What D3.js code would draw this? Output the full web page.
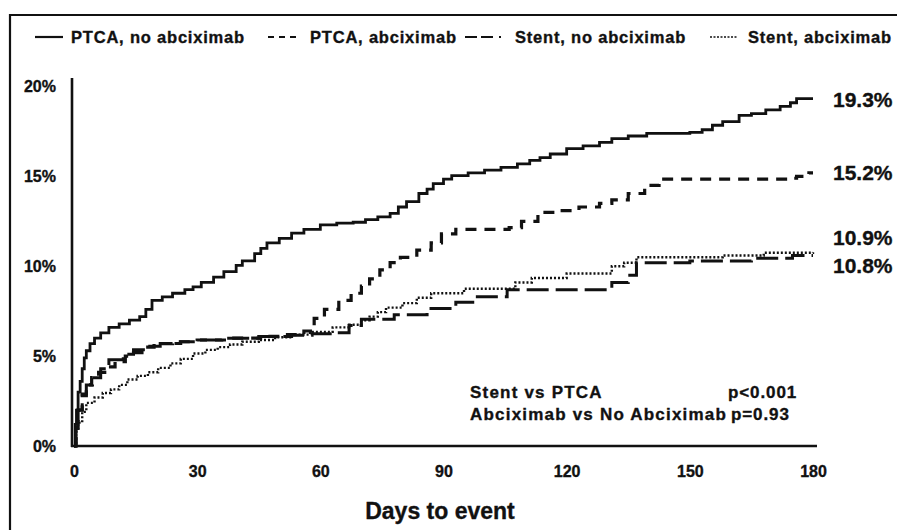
<!DOCTYPE html>
<html>
<head>
<meta charset="utf-8">
<script src="https://cdn.jsdelivr.net/npm/d3@7"></script>
<style>
  body { margin: 0; background: #fff; }
  text { font-family: "Liberation Sans", Arial, sans-serif; font-weight: bold; fill: #111; stroke: #111; stroke-width: 0.35px; }
</style>
</head>
<body>
<div id="plot"></div>
<script>
const w = 897;
const h = 530;

// [day, cumulative event %]
const ptcaNoAbx = [[0,0],[0.3,1.2],[0.6,2.0],[1,3.0],[1.5,3.6],[2,4.3],[2.5,4.9],[3,5.3],[3.9,5.7],[5,6.0],[6.5,6.3],[8.5,6.6],[11,6.8],[13.5,7.0],[16,7.2],[17.5,7.6],[19,8.1],[21.5,8.3],[24,8.5],[27,8.7],[29,8.85],[31,9.1],[34,9.4],[36.5,9.7],[39.5,10.05],[41,10.3],[44,10.7],[45.5,11.0],[47,11.3],[50,11.55],[53,11.85],[56,12.05],[60,12.3],[64,12.4],[68,12.45],[71,12.6],[74,12.75],[77,12.95],[79,13.3],[81,13.6],[84,14.05],[86,14.3],[87.5,14.6],[90,14.85],[92,15.05],[96,15.2],[100,15.35],[104,15.5],[108,15.7],[111,15.9],[113.5,16.05],[116,16.25],[120,16.55],[124,16.7],[128,16.9],[131,17.1],[135,17.25],[139.5,17.4],[150,17.45],[153,17.6],[155.5,17.85],[158,18.05],[162,18.4],[165,18.5],[168.5,18.7],[172,18.9],[174.5,19.1],[176,19.33],[180,19.33]];
const ptcaAbx = [[0,0],[0.5,1.0],[1,2.0],[2,2.8],[3,3.4],[4.3,3.8],[6,4.1],[8,4.4],[10,4.7],[12.5,5.0],[14.5,5.2],[17,5.5],[19.5,5.7],[24,5.8],[30,5.9],[38,6.0],[46,6.1],[52,6.2],[56,6.4],[58.5,7.1],[61,7.6],[64.5,8.1],[67.5,8.5],[70,8.9],[72,9.3],[74.5,9.8],[77,10.2],[79.5,10.5],[83.5,10.9],[87,11.3],[89.5,11.8],[93,12.05],[106,12.15],[109,12.5],[113,13.0],[118,13.1],[123,13.3],[128,13.5],[131,13.7],[135,14.05],[139,14.5],[142.5,14.85],[174,14.9],[176,15.0],[179,15.2],[180,15.2]];
const stentNoAbx = [[0,0],[0.5,1.2],[1,2.0],[2,2.9],[3,3.4],[4.5,3.8],[6.5,4.3],[8.5,4.8],[12,5.1],[14.5,5.35],[18,5.55],[21,5.7],[26,5.8],[30,5.9],[36,6.0],[45,6.1],[53,6.17],[58,6.25],[64,6.3],[67,6.7],[70,7.05],[78,7.3],[86,7.65],[93,8.0],[97.5,8.3],[105.5,8.7],[131,9.1],[135,9.5],[137,10.2],[150,10.3],[165,10.45],[175,10.6],[180,10.6]];
const stentAbx = [[0,0],[0.5,0.8],[1,1.3],[2,1.9],[3,2.4],[5,2.7],[7,2.95],[9,3.15],[11,3.4],[13,3.7],[15.5,3.9],[18,4.1],[20.5,4.35],[23.5,4.6],[26,4.85],[29,5.15],[32,5.35],[35,5.5],[38,5.65],[41,5.8],[45,5.9],[49,6.05],[53,6.2],[57.5,6.35],[63,6.6],[67,6.75],[70,7.0],[72,7.2],[74,7.45],[76,7.7],[80,7.95],[83.5,8.25],[87,8.5],[95,8.75],[107.5,9.1],[111.5,9.35],[120,9.6],[131,10.0],[134,10.2],[137,10.5],[158,10.6],[168,10.75],[180,10.78]];

const seriesNames = ["PTCA, no abciximab", "PTCA, abciximab", "Stent, no abciximab", "Stent, abciximab"];
const endLabels = ["19.3%", "15.2%", "10.9%", "10.8%"];
const xTicks = [0, 30, 60, 90, 120, 150, 180];
const yTicks = [0, 5, 10, 15, 20];
const pValues = [["Stent vs PTCA", "p<0.001"], ["Abciximab vs No Abciximab", "p=0.93"]];

const xScale = d3.scaleLinear().domain([0, 180]).range([74, 813]);
const yScale = d3.scaleLinear().domain([0, 20]).range([446, 86.6]);

const svg = d3.select("#plot").
append("svg").
attr("width", w).
attr("height", h);

// frame (top and left edges only)
svg.append("path").
attr("d", "M10," + h + "V15H" + w).
attr("fill", "none").
attr("stroke", "#111").
attr("stroke-width", 2.2);

// axes
const xAxis = d3.axisBottom(xScale).tickValues(xTicks).tickSize(0).tickPadding(20);
const yAxis = d3.axisLeft(yScale).tickValues(yTicks).tickSize(0).tickPadding(16).tickFormat(d => d + "%");

svg.append("g").
attr("transform", "translate(0,446)").
call(xAxis).
call(g => g.select(".domain").remove()).
call(g => g.selectAll("text").attr("font-size", 16).attr("font-family", null).attr("fill", null));

svg.append("g").
attr("transform", "translate(72,0)").
call(yAxis).
call(g => g.select(".domain").remove()).
call(g => g.selectAll("text").attr("font-size", 16).attr("font-family", null).attr("fill", null));

svg.append("line").
attr("x1", 72).attr("x2", 72).
attr("y1", 78).attr("y2", 447).
attr("stroke", "#111").attr("stroke-width", 2.6);

svg.append("line").
attr("x1", 71).attr("x2", 817).
attr("y1", 446).attr("y2", 446).
attr("stroke", "#111").attr("stroke-width", 2.6);

// curves
const styles = [
  { dash: null, width: 2.8, legendDash: null },
  { dash: "11,8", width: 3.2, legendDash: "6,5" },
  { dash: "22,7", width: 3, legendDash: "12,4,12,6,2,40" },
  { dash: "2,2", width: 2.4, legendDash: "2,1.5" }
];

const line = d3.line().
curve(d3.curveStepAfter).
x(d => xScale(d[0])).
y(d => yScale(d[1]));

const allSeries = [ptcaNoAbx, ptcaAbx, stentNoAbx, stentAbx];

svg.selectAll(".curve").
data(allSeries).
enter().
append("path").
attr("class", "curve").
attr("d", line).
attr("fill", "none").
attr("stroke", "#111").
attr("stroke-width", (d, i) => styles[i].width).
attr("stroke-dasharray", (d, i) => styles[i].dash);

// end labels
const endLabelY = [107, 180, 245, 273];
svg.selectAll(".endlab").
data(endLabels).
enter().
append("text").
attr("class", "endlab").
attr("x", 833).
attr("y", (d, i) => endLabelY[i]).
attr("font-size", 21).
text(d => d);

// legend
const legendX = [35, 268, 465, 710];
const legendLen = [28, 30, 42, 28];
const legendTextX = [71, 310, 515, 748];
const legend = svg.append("g");

legend.selectAll("line").
data(seriesNames).
enter().
append("line").
attr("x1", (d, i) => legendX[i]).
attr("x2", (d, i) => legendX[i] + legendLen[i]).
attr("y1", 37).attr("y2", 37).
attr("stroke", "#111").
attr("stroke-width", (d, i) => i == 3 ? 1.5 : 2.2).
attr("stroke-dasharray", (d, i) => styles[i].legendDash);

legend.selectAll("text").
data(seriesNames).
enter().
append("text").
attr("x", (d, i) => legendTextX[i]).
attr("y", 43).
attr("font-size", 16.5).
attr("letter-spacing", 0.8).
text(d => d);

// p values
const pg = svg.append("g");
pValues.forEach((row, i) => {
  pg.append("text").
  attr("x", 470).
  attr("y", 398 + i * 22).
  attr("font-size", 17).
  attr("letter-spacing", 1.2).
  text(row[0]);
  pg.append("text").
  attr("x", i == 0 ? 728 : 731).
  attr("y", 398 + i * 22).
  attr("font-size", 17).
  attr("letter-spacing", 0.9).
  text(row[1]);
});

svg.append("text").
attr("x", 440).
attr("y", 519).
attr("text-anchor", "middle").
attr("font-size", 23).
text("Days to event");
</script>
</body>
</html>
